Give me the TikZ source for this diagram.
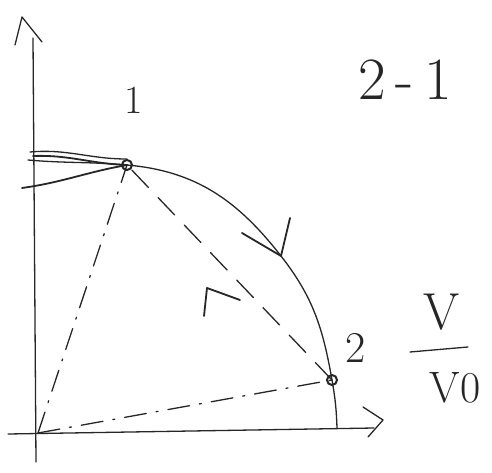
\documentclass[tikz,border=0pt]{standalone}
\usetikzlibrary{arrows.meta}
\begin{document}
\begin{tikzpicture}[x=1pt,y=-1pt,
  pen/.style={line width=1.8pt,line cap=round,line join=round,black!85},
  thinpen/.style={line width=1.3pt,line cap=round,line join=round,black!85},
  dashdot/.style={thinpen,dash pattern=on 22pt off 10pt on 2pt off 10pt},
  dashline/.style={thinpen,dash pattern=on 24pt off 14pt},
  ring/.style={circle,draw,line width=2pt,inner sep=0pt,minimum size=10pt,black!85},
  lbl/.style={inner sep=0pt,black!85}]
\useasboundingbox (0,0) rectangle (492,473);
% axes
\coordinate (O) at (38,433);
\coordinate (ytop) at (33,38);
\coordinate (xend) at (374,428);
\coordinate (ybot) at (36,462);
\coordinate (xbeg) at (8,434);
\draw[thinpen] (ybot) -- (ytop);
\draw[thinpen] (xbeg) -- (xend);
\draw[thinpen] (15,45) -- (22,17) -- (42,42);
\draw[thinpen] (363,407) -- (383,420) -- (368,437);
% points
\node[ring] (p1) at (127,165) {};
\node[ring] (p2) at (332,380) {};
\coordinate (m) at (281,256);
\coordinate (foot) at (337,428);
% main curve
\draw[thinpen] (p1.center) to[out=-5,in=128] (m) to[out=-52,in=100] (p2.center) to[out=-80,in=92] (foot);
% scribbles at point 1
\draw[pen] (p1.center) to[out=178,in=2] (33,156);
\draw[thinpen] (p1.center) to[out=175,in=-5] (28,160);
\draw[pen] (p1.center) to[out=190,in=8] (22,188);
\draw[thinpen] (p1.north) to[out=180,in=5] (30,152);
% arrow on curve
\draw[pen] (242,233) -- (m) -- (290,218);
% dash-dot lines from origin
\draw[dashdot] (O) -- (p1.center);
\draw[dashdot] (O) -- (p2.center);
% dashed return line with arrow
\coordinate (ah) at (207,288);
\draw[dashline] (p2.center) -- (p1.center);
\draw[pen] (204,316) -- (ah) -- (240,300);
% labels
\node[lbl,font=\fontsize{40}{40}\selectfont] (l1) at (134,100) {1};
\node[lbl,font=\fontsize{44}{44}\selectfont] (l2) at (356,348) {2};
\node[lbl,font=\fontsize{60}{60}\selectfont] (l21) at (405,80) {2\,-\,1};
\node[lbl,font=\fontsize{52}{52}\selectfont] (vnum) at (442,312) {V};
\coordinate (fa) at (410,352);
\coordinate (fb) at (468,347);
\draw[thinpen] (fa) -- (fb);
\node[lbl,font=\fontsize{44}{44}\selectfont] (vden) at (455,388) {V0};
\end{tikzpicture}
\end{document}
